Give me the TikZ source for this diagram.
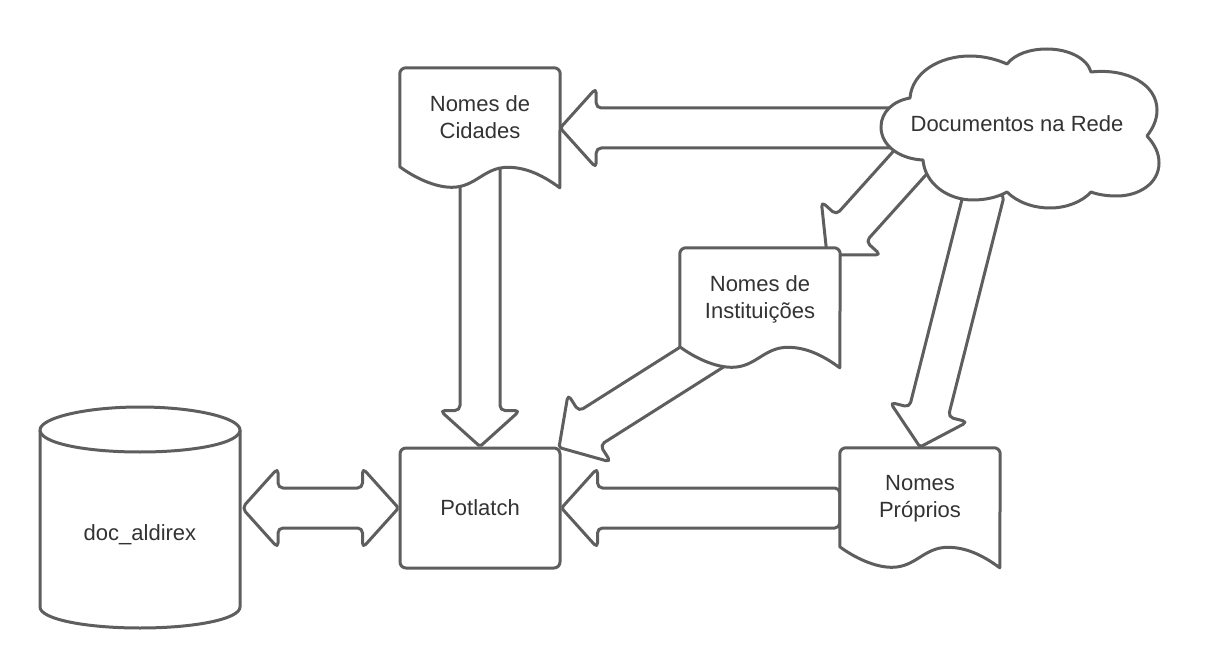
\documentclass[tikz,border=0pt]{standalone}
\usepackage{fontspec}
\setmainfont{Liberation Sans}
\usetikzlibrary{calc}
\definecolor{linegray}{HTML}{5E5E5E}
\definecolor{textgray}{HTML}{333333}
\pgfdeclarelayer{arrowlayer}
\pgfdeclarelayer{shapelayer}
\pgfsetlayers{arrowlayer,shapelayer,main}
\tikzset{
  outline/.style={draw=linegray,line width=3pt,fill=white,line join=round},
  blockarrow/.style={outline,rounded corners=5pt},
  docframe/.style={minimum width=160pt,minimum height=120pt,inner sep=0pt},
  txt/.style={text=textgray,align=center,font=\fontsize{22}{27}\selectfont,inner sep=0pt},
}
\newcommand\singleblock[2]{%
  \coordinate (hb) at ($(#2)!36pt!(#1)$);
  \draw[blockarrow] ($(#1)!20pt!90:(#2)$) -- ($(hb)!20pt!90:(#2)$) -- ($(hb)!40pt!90:(#2)$) [rounded corners=2pt] -- (#2)
    [rounded corners=5pt] -- ($(hb)!40pt!-90:(#2)$) -- ($(hb)!20pt!-90:(#2)$) -- ($(#1)!20pt!-90:(#2)$) -- cycle;}
\newcommand\doubleblock[2]{%
  \coordinate (hb) at ($(#2)!36pt!(#1)$);
  \coordinate (ha) at ($(#1)!36pt!(#2)$);
  \draw[blockarrow] (#1) -- ($(ha)!40pt!-90:(#1)$) -- ($(ha)!20pt!-90:(#1)$) -- ($(hb)!20pt!90:(#2)$) -- ($(hb)!40pt!90:(#2)$) [rounded corners=2pt] -- (#2)
    [rounded corners=5pt] -- ($(hb)!40pt!-90:(#2)$) -- ($(hb)!20pt!-90:(#2)$) -- ($(ha)!20pt!90:(#1)$) -- ($(ha)!40pt!90:(#1)$) -- cycle;}
\newcommand\docoutline[1]{%
  \coordinate (o) at (#1.north west);
  \draw[outline] ($(o)+(0,99)$)
    .. controls ($(o)+(15,110)$) and ($(o)+(35,119.5)$) .. ($(o)+(52,119.5)$)
    .. controls ($(o)+(76,119.5)$) and ($(o)+(84,99.5)$) .. ($(o)+(108,99.5)$)
    .. controls ($(o)+(128,99.5)$) and ($(o)+(145,109)$) .. ($(o)+(160,120)$)
    [rounded corners=6pt] -- (#1.north east) -- (#1.north west) [sharp corners] -- cycle;}
\begin{document}
\begin{tikzpicture}[x=1pt,y=-1pt]
\useasboundingbox (0,0) rectangle (1215,668);
% nodes
\node[docframe,label={[txt,yshift=11pt]center:Nomes de\\Cidades}] (cid) at (480,128) {};
\node[docframe,label={[txt,yshift=9pt]center:Nomes de\\Instituições}] (inst) at (760,308) {};
\node[docframe,label={[txt,yshift=9pt]center:Nomes\\Próprios}] (prop) at (920,508) {};
\node[docframe,txt,draw=linegray,line width=3pt,rounded corners=6pt] (pot) at (480,508) {Potlatch};
\node[txt,minimum width=200pt,minimum height=221pt] (cyl) at (140,535) {doc\_aldirex};
\node[txt] (cloud) at (1017,124) {Documentos na Rede};
% free ends of the connectors
\coordinate (cylPort) at (242,508);
\coordinate (cloudA) at (915,128);
\coordinate (cloudB) at (934,136);
\coordinate (cloudC) at (985,190);
\coordinate (instIn) at (827,255);
\coordinate (propIn) at (920,447);
\coordinate (instOut) at (728,340.5);
\coordinate (potIn) at (559,447.5);
\begin{pgfonlayer}{shapelayer}
  \docoutline{cid}
  \docoutline{inst}
  \docoutline{prop}
  \draw[outline] (881,127) .. controls (881,112) and (893,101) .. (910,98)
    .. controls (912,72) and (940,56) .. (970,56) .. controls (985,56) and (998,60) .. (1007,64)
    .. controls (1015,54) and (1030,49) .. (1047,49) .. controls (1068,49) and (1087,58) .. (1091,72)
    .. controls (1128,68) and (1157,85) .. (1157,110) .. controls (1157,120) and (1153,128) .. (1147,136)
    .. controls (1155,145) and (1159,153) .. (1159,163) .. controls (1159,184) and (1138,196) .. (1117,196)
    .. controls (1108,196) and (1099,195) .. (1091,192)
    .. controls (1082,202) and (1066,208) .. (1050,208) .. controls (1033,208) and (1017,202) .. (1007,192)
    .. controls (998,197) and (986,200) .. (973,200) .. controls (948,200) and (925,184) .. (923,160)
    .. controls (900,159) and (881,146) .. (881,127) -- cycle;
  \draw[outline] (40,430) -- (40,607) .. controls (40,619) and (85,628) .. (140,628)
    .. controls (195,628) and (240,619) .. (240,607) -- (240,430)
    .. controls (240,418) and (195,407) .. (140,407) .. controls (85,407) and (40,418) .. (40,430) -- cycle;
  \draw[outline] (40,430) .. controls (40,443) and (85,452) .. (140,452)
    .. controls (195,452) and (240,443) .. (240,430);
\end{pgfonlayer}
\begin{pgfonlayer}{arrowlayer}
  \singleblock{cloudA}{cid.east}
  \singleblock{cloudB}{instIn}
  \singleblock{cloudC}{propIn}
  \singleblock{cid.center}{pot.north}
  \singleblock{instOut}{potIn}
  \singleblock{prop.west}{pot.east}
  \doubleblock{cylPort}{pot.west}
\end{pgfonlayer}
\end{tikzpicture}
\end{document}
